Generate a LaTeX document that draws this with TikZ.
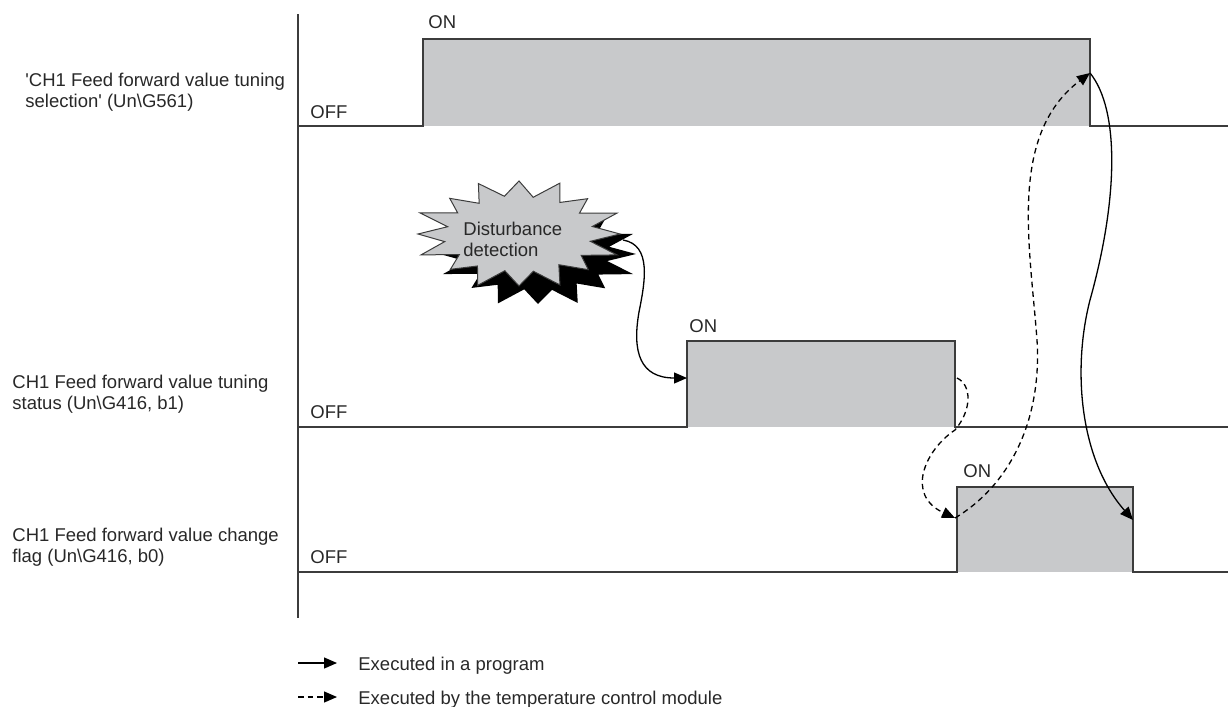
\documentclass[tikz,border=0pt]{standalone}
\usepackage{fontspec}
\setmainfont{Liberation Sans}
\usetikzlibrary{arrows.meta}
\definecolor{linec}{RGB}{60,60,60}
\definecolor{fillc}{RGB}{200,201,203}
\definecolor{textc}{RGB}{40,40,40}
\tikzset{
  wave/.style={draw=linec, line width=1pt},
  hi/.style={fill=fillc},
  lbl/.style={inner sep=0pt, text=textc, font=\fontsize{9.25}{10.5}\selectfont},
  conn/.style={draw=black, line width=0.65pt, -{Triangle[length=6.5pt,width=5.5pt]}},
  dconn/.style={conn, dash pattern=on 2.8pt off 2pt},
}
\def\burstlist{11.25/0.72, 22.5/1.05, 33.75/0.74, 45/0.97, 56.25/0.71, 67.5/1.06, 78.75/0.73, 90/1.0, 101.25/0.72, 112.5/1.07, 123.75/0.74, 135/0.96, 146.25/0.71, 157.5/1.05, 168.75/0.75, 180/1.0, 191.25/0.72, 202.5/1.06, 213.75/0.73, 225/0.97, 236.25/0.71, 247.5/1.05, 258.75/0.74, 270/1.02, 281.25/0.72, 292.5/1.06, 303.75/0.73, 315/0.96, 326.25/0.72, 337.5/1.05, 348.75/0.74}
\begin{document}
\begin{tikzpicture}[x=0.5pt, y=-0.5pt]
\useasboundingbox (0,0) rectangle (1228,707);

% axis
\draw[wave] (298,14) -- (298,618);

% signal 1
\fill[hi] (423,39) rectangle (1090,126);
\draw[wave] (298,126) -- (423,126) -- (423,39) -- (1090,39) -- (1090,126) -- (1228,126);
% signal 2
\fill[hi] (687,341) rectangle (955,427);
\draw[wave] (298,427) -- (687,427) -- (687,341) -- (955,341) -- (955,427) -- (1228,427);
% signal 3
\fill[hi] (957,487) rectangle (1133,572);
\draw[wave] (298,572) -- (957,572) -- (957,487) -- (1133,487) -- (1133,572) -- (1228,572);

% labels left
\node[lbl, anchor=north west, align=left] (lab1) at (25,73) {\textquotesingle CH1 Feed forward value tuning\\selection\textquotesingle\ (Un\textbackslash G561)};
\node[lbl, anchor=north west, align=left] (lab2) at (12,375) {CH1 Feed forward value tuning\\status (Un\textbackslash G416, b1)};
\node[lbl, anchor=north west, align=left] (lab3) at (12,528) {CH1 Feed forward value change\\flag (Un\textbackslash G416, b0)};

% ON/OFF
\node[lbl, anchor=base west] (on1) at (428,28) {ON};
\node[lbl, anchor=base west] (off1) at (310,118) {OFF};
\node[lbl, anchor=base west] (on2) at (689,332) {ON};
\node[lbl, anchor=base west] (off2) at (310,418) {OFF};
\node[lbl, anchor=base west] (on3) at (963,477) {ON};
\node[lbl, anchor=base west] (off3) at (310,563) {OFF};

% starburst
\fill[black, shift={(538,254)}, xscale=98, yscale=50] (0:1) \foreach \a/\r in \burstlist { -- (\a:\r) } -- cycle;
\filldraw[fill=fillc, draw=linec, line width=0.5pt, shift={(519,234)}, xscale=101, yscale=52] (0:1) \foreach \a/\r in \burstlist { -- (\a:\r) } -- cycle;
\node[lbl, anchor=north west, align=left] (dist) at (463,222) {Disturbance\\detection};

% connector points
\coordinate (bstart) at (623,240);
\coordinate (s2rise) at (687,378);
\coordinate (s2fall) at (957,378);
\coordinate (s3rise) at (955,518);
\coordinate (s1fall) at (1090,73);
\coordinate (s3fall) at (1133,520);

\draw[conn] (bstart) .. controls (652,245) and (645,282) .. (639,312) .. controls (632,352) and (640,378) .. (s2rise);
\draw[dconn] (s2fall) .. controls (972,385) and (972,410) .. (955,430) .. controls (925,450) and (905,495) .. (s3rise);
\draw[dconn] (s3rise) .. controls (1010,485) and (1042,420) .. (1037,340) .. controls (1030,245) and (1008,135) .. (s1fall);
\draw[conn] (s1fall) .. controls (1120,110) and (1118,200) .. (1090,300) .. controls (1072,370) and (1080,460) .. (s3fall);

% legend
\coordinate (l1a) at (298,663);
\coordinate (l1b) at (337,663);
\coordinate (l2a) at (298,697);
\coordinate (l2b) at (337,697);
\draw[conn] (l1a) -- (l1b);
\draw[dconn] (l2a) -- (l2b);
\node[lbl, anchor=base west] (leg1) at (358,670) {Executed in a program};
\node[lbl, anchor=base west] (leg2) at (358,704) {Executed by the temperature control module};
\end{tikzpicture}
\end{document}
